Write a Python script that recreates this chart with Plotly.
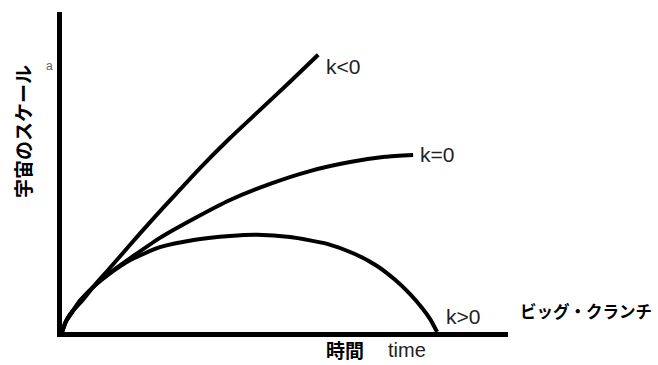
import plotly.graph_objects as go

# time (arbitrary units) and scale factor a
t_open = [0, 0.08, 0.21, 0.56, 0.88, 1.20, 1.55, 1.81, 2.35, 3.01, 3.68, 4.48, 5.28, 6.08, 6.83]
a_open = [0, 0.23, 0.47, 0.86, 1.26, 1.62, 2.02, 2.32, 2.93, 3.65, 4.37, 5.17, 5.92, 6.67, 7.39]

t_flat = [0, 0.11, 0.27, 0.48, 0.80, 1.28, 1.95, 2.61, 3.55, 4.48, 5.55, 6.61, 7.68, 8.61, 9.36]
a_flat = [0, 0.29, 0.53, 0.83, 1.17, 1.58, 2.06, 2.51, 3.04, 3.52, 3.95, 4.29, 4.53, 4.67, 4.72]

t_closed = [0, 0.11, 0.27, 0.48, 0.80, 1.28, 1.81, 2.61, 3.55, 4.48, 5.20, 6.08, 7.07, 7.81,
            8.40, 8.88, 9.28, 9.60, 9.81, 10.0]
a_closed = [0, 0.29, 0.53, 0.83, 1.17, 1.56, 1.91, 2.26, 2.46, 2.56, 2.59, 2.53, 2.35, 2.08,
            1.76, 1.39, 1.01, 0.64, 0.35, 0]

labels = ["k<0", "k=0", "k>0"]
x_max = 11.89
y_max = 8.53

LATIN = "Liberation Sans Narrow, Liberation Sans, Arial, sans-serif"
CJK = "Noto Sans CJK JP, sans-serif"

fig = go.Figure()
for tx, ay in [(t_open, a_open), (t_flat, a_flat), (t_closed, a_closed)]:
    fig.add_trace(go.Scatter(x=tx, y=ay, mode="lines",
                             line=dict(color="black", width=4, shape="spline", smoothing=0.6),
                             hoverinfo="skip", showlegend=False, cliponaxis=False))

ends = [(t_open[-1], a_open[-1], 6, -12),
        (t_flat[-1], a_flat[-1], 5, 0),
        (t_closed[-1], a_closed[-1], 7, 16)]
for lab, (ex, ey, xs, ys) in zip(labels, ends):
    fig.add_annotation(x=ex, y=ey, xref="x", yref="y", text=lab, showarrow=False,
                       xanchor="left", yanchor="middle", xshift=xs, yshift=ys,
                       font=dict(family=LATIN, size=21, color="#222"))

fig.add_annotation(x=1.022, y=0.066, xref="paper", yref="paper", text="<b>ビッグ・クランチ</b>",
                   showarrow=False, xanchor="left", yanchor="middle",
                   font=dict(family=CJK, size=16.5, color="black"))
fig.add_annotation(x=0.635, y=-0.055, xref="paper", yref="paper", text="<b>時間</b>",
                   showarrow=False, xanchor="center", yanchor="middle",
                   font=dict(family=CJK, size=19, color="black"))
fig.add_annotation(x=0.774, y=-0.055, xref="paper", yref="paper", text="time",
                   showarrow=False, xanchor="center", yanchor="middle",
                   font=dict(family=LATIN, size=20, color="#222"))
fig.add_annotation(x=-0.0897, y=0.628, xref="paper", yref="paper", text="<b>宇宙のスケール</b>",
                   showarrow=False, xanchor="center", yanchor="middle", textangle=-90,
                   font=dict(family=CJK, size=19, color="black"))
fig.add_annotation(x=-0.027, y=0.83, xref="paper", yref="paper", text="a",
                   showarrow=False, xanchor="center", yanchor="middle",
                   font=dict(family=LATIN, size=12, color="#666"))

fig.update_xaxes(range=[0, x_max], showline=True, linecolor="black", linewidth=5,
                 showgrid=False, zeroline=False, showticklabels=False, ticks="")
fig.update_yaxes(range=[0, y_max], showline=True, linecolor="black", linewidth=5,
                 showgrid=False, zeroline=False, showticklabels=False, ticks="")
fig.update_layout(width=658, height=365, margin=dict(l=62, r=150, t=12, b=33),
                  paper_bgcolor="white", plot_bgcolor="white")
fig.write_html("out.html", config={"displayModeBar": False},
               post_script="document.body.style.margin='0';document.body.style.overflow='hidden';")
